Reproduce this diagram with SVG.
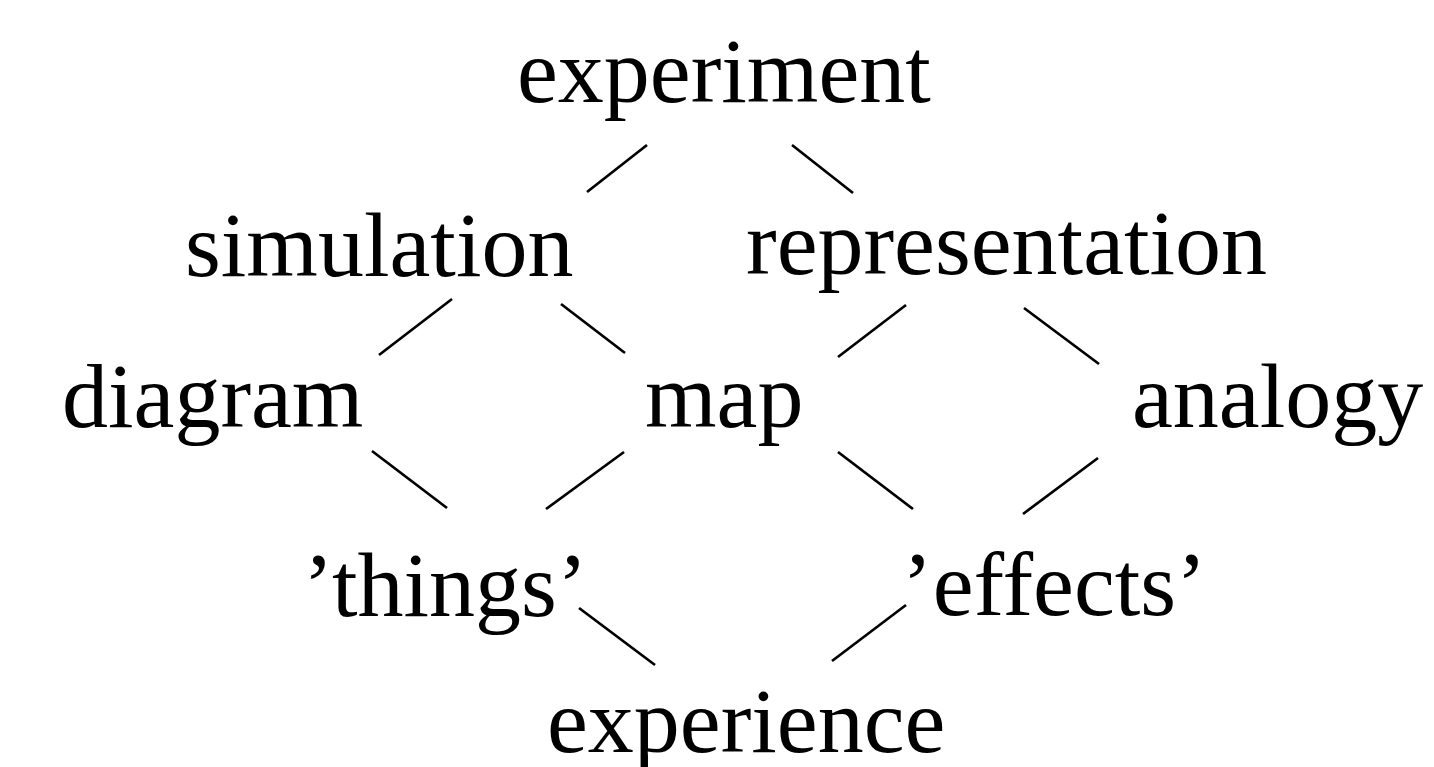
<svg xmlns="http://www.w3.org/2000/svg" width="1434" height="767" viewBox="0 0 1434 767">
<style>
.t{font-family:"Liberation Serif","Times New Roman",serif;font-size:92px;fill:#000}
.c line{stroke:#000;stroke-width:2.7;stroke-linecap:butt}
</style>
<rect width="1434" height="767" fill="#fff"/>
<g id="experiment"><text class="t" x="517" y="102">experiment</text></g>
<g id="simulation"><text class="t" x="185" y="276">simulation</text></g>
<g id="representation"><text class="t" x="746" y="274">representation</text></g>
<g id="diagram"><text class="t" x="62" y="427">diagram</text></g>
<g id="map"><text class="t" x="645" y="427">map</text></g>
<g id="analogy"><text class="t" x="1132" y="427">analogy</text></g>
<g id="things"><text class="t" x="303" y="616">’things’</text></g>
<g id="effects"><text class="t" x="902" y="615">’effects’</text></g>
<g id="experience"><text class="t" x="547" y="752">experience</text></g>
<g id="connectors" class="c">
<line x1="647" y1="145" x2="587" y2="192"/>
<line x1="792" y1="145" x2="853" y2="193"/>
<line x1="452" y1="299" x2="379" y2="355"/>
<line x1="561" y1="304" x2="625" y2="353"/>
<line x1="906" y1="305" x2="838" y2="357"/>
<line x1="1024" y1="308" x2="1099" y2="364"/>
<line x1="372" y1="451" x2="447" y2="508"/>
<line x1="624" y1="452" x2="546" y2="509"/>
<line x1="838" y1="452" x2="913" y2="509"/>
<line x1="1098" y1="458" x2="1023" y2="514"/>
<line x1="579" y1="608" x2="655" y2="665"/>
<line x1="906" y1="605" x2="832" y2="661"/>
</g>
</svg>
